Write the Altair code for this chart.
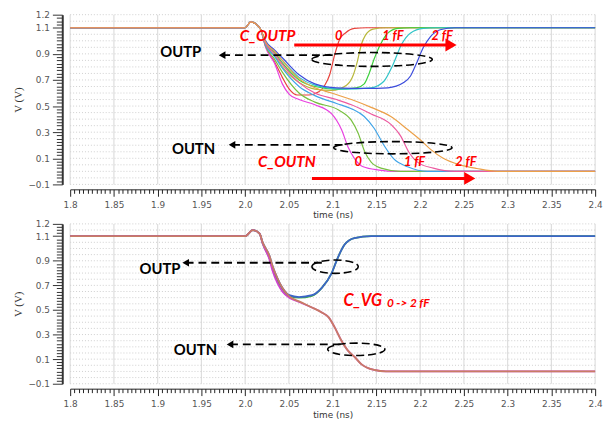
import altair as alt
import pandas as pd

# ---------------- axis values ----------------
T_DOMAIN = [1.8, 2.4]
V_DOMAIN = [-0.1, 1.2]
grid_t_vals = [1.8, 1.85, 1.9, 1.95, 2.0, 2.05, 2.1, 2.15, 2.2, 2.25, 2.3, 2.35, 2.4]
y_label_vals = [-0.1, 0.1, 0.3, 0.5, 0.7, 0.9, 1.1, 1.2]
x_tick_vals = [round(1.8 + 0.005 * i, 3) for i in range(121)]
y_tick_vals = [round(-0.1 + 0.025 * i, 3) for i in range(53)]
grid_v_vals = [round(-0.1 + 0.05 * i, 3) for i in range(27)]

# ---------------- top panel curves (C_OUTP / C_OUTN = 0 .. 2 fF) ----------------
outp0_t = [1.8, 2.0, 2.0064, 2.012, 2.0175, 2.0233, 2.0335, 2.0425, 2.0504, 2.0594, 2.0729, 2.0842, 2.0910, 2.0966, 2.1022, 2.1079, 2.1146, 2.1248, 2.1383, 2.4]
outp0_v = [1.1, 1.1, 1.145, 1.13, 1.09, 0.96, 0.84, 0.72, 0.63, 0.585, 0.585, 0.61, 0.66, 0.74, 0.89, 1.01, 1.06, 1.095, 1.1, 1.1]
outp05_t = [1.8, 2.0, 2.0064, 2.012, 2.0175, 2.0233, 2.0335, 2.0425, 2.0616, 2.0797, 2.0989, 2.1158, 2.1237, 2.1282, 2.1327, 2.1372, 2.1462, 2.1609, 2.4]
outp05_v = [1.1, 1.1, 1.145, 1.13, 1.09, 0.97, 0.89, 0.80, 0.68, 0.63, 0.62, 0.66, 0.74, 0.84, 0.97, 1.04, 1.09, 1.1, 1.1]
outp1_t = [1.8, 2.0, 2.0064, 2.012, 2.0175, 2.0233, 2.0335, 2.0425, 2.0616, 2.0797, 2.1045, 2.1271, 2.1361, 2.1417, 2.1474, 2.1552, 2.1631, 2.1744, 2.1891, 2.4]
outp1_v = [1.1, 1.1, 1.145, 1.13, 1.09, 0.98, 0.91, 0.83, 0.70, 0.65, 0.63, 0.64, 0.67, 0.75, 0.86, 0.98, 1.06, 1.095, 1.1, 1.1]
outp15_t = [1.8, 2.0, 2.0064, 2.012, 2.0175, 2.0233, 2.0335, 2.0425, 2.0616, 2.0797, 2.1101, 2.144, 2.1586, 2.1688, 2.179, 2.1891, 2.2038, 2.2173, 2.4]
outp15_v = [1.1, 1.1, 1.145, 1.13, 1.09, 0.99, 0.92, 0.85, 0.72, 0.66, 0.63, 0.64, 0.69, 0.815, 0.975, 1.06, 1.095, 1.1, 1.1]
outp2_t = [1.8, 2.0, 2.0064, 2.012, 2.0175, 2.0233, 2.0335, 2.0425, 2.0616, 2.0797, 2.1045, 2.1383, 2.1631, 2.1812, 2.189, 2.1947, 2.2038, 2.2116, 2.2229, 2.2398, 2.4]
outp2_v = [1.1, 1.1, 1.145, 1.13, 1.09, 1.0, 0.93, 0.87, 0.74, 0.67, 0.64, 0.635, 0.64, 0.68, 0.73, 0.81, 0.95, 1.03, 1.085, 1.1, 1.1]

outn0_t = [1.8, 2.0, 2.0064, 2.012, 2.0175, 2.0233, 2.0335, 2.0425, 2.0504, 2.0616, 2.0797, 2.0989, 2.1101, 2.118, 2.1248, 2.1349, 2.153, 2.1722, 2.4]
outn0_v = [1.1, 1.1, 1.145, 1.13, 1.09, 0.95, 0.83, 0.67, 0.59, 0.55, 0.51, 0.44, 0.32, 0.18, 0.10, 0.035, 0.01, 0.0, 0.0]
outn05_t = [1.8, 2.0, 2.0064, 2.012, 2.0175, 2.0233, 2.0335, 2.0425, 2.0616, 2.0797, 2.1068, 2.1214, 2.1293, 2.1361, 2.144, 2.1552, 2.1778, 2.4]
outn05_v = [1.1, 1.1, 1.145, 1.13, 1.09, 0.96, 0.86, 0.76, 0.60, 0.53, 0.47, 0.39, 0.29, 0.16, 0.07, 0.025, 0.0, 0.0]
outn1_t = [1.8, 2.0, 2.0064, 2.012, 2.0175, 2.0233, 2.0335, 2.0425, 2.0616, 2.0797, 2.1045, 2.1214, 2.1361, 2.1474, 2.1586, 2.1699, 2.1857, 2.2082, 2.4]
outn1_v = [1.1, 1.1, 1.145, 1.13, 1.09, 0.97, 0.88, 0.79, 0.65, 0.58, 0.52, 0.48, 0.42, 0.33, 0.20, 0.095, 0.035, 0.0, 0.0]
outn15_t = [1.8, 2.0, 2.0064, 2.012, 2.0175, 2.0233, 2.0335, 2.0425, 2.0616, 2.0797, 2.1045, 2.1214, 2.144, 2.1665, 2.1778, 2.1868, 2.1981, 2.215, 2.2398, 2.4]
outn15_v = [1.1, 1.1, 1.145, 1.13, 1.09, 0.98, 0.90, 0.82, 0.68, 0.60, 0.55, 0.51, 0.44, 0.36, 0.27, 0.15, 0.065, 0.025, 0.0, 0.0]
outn2_t = [1.8, 2.0, 2.0064, 2.012, 2.0175, 2.0233, 2.0335, 2.0425, 2.0616, 2.0797, 2.0989, 2.1214, 2.144, 2.1665, 2.1857, 2.2004, 2.2116, 2.2263, 2.2455, 2.2647, 2.2883, 2.4]
outn2_v = [1.1, 1.1, 1.145, 1.13, 1.09, 0.99, 0.92, 0.85, 0.71, 0.64, 0.60, 0.55, 0.49, 0.42, 0.32, 0.24, 0.17, 0.10, 0.05, 0.022, 0.0, 0.0]

# ---------------- bottom panel curves (C_VG = 0 .. 2 fF) ----------------
vg_outp_g_t = [1.8, 2.0, 2.0086, 2.0165, 2.02, 2.0278, 2.0312, 2.0368, 2.0425, 2.0504, 2.0616, 2.0763, 2.0876, 2.0989, 2.1056, 2.1135, 2.1248, 2.144, 2.4]
vg_outp_g_v = [1.1, 1.1, 1.15, 1.12, 1.04, 0.92, 0.84, 0.74, 0.67, 0.615, 0.60, 0.615, 0.68, 0.80, 0.92, 1.03, 1.085, 1.1, 1.1]
vg_outp_t = [1.8, 2.0, 2.0086, 2.0165, 2.02, 2.0278, 2.0312, 2.0368, 2.0425, 2.0504, 2.0616, 2.0763, 2.0876, 2.0989, 2.1056, 2.1135, 2.1248, 2.144, 2.4]
vg_outp_v = [1.1, 1.1, 1.15, 1.12, 1.05, 0.94, 0.86, 0.76, 0.68, 0.62, 0.605, 0.62, 0.68, 0.80, 0.92, 1.03, 1.085, 1.1, 1.1]
vg_outn_m_t = [1.8, 2.0, 2.0086, 2.0165, 2.02, 2.0278, 2.0312, 2.0368, 2.0425, 2.0504, 2.0616, 2.0763, 2.0876, 2.0955, 2.1022, 2.1101, 2.118, 2.1248, 2.1327, 2.1474, 2.1609, 2.4]
vg_outn_m_v = [1.1, 1.1, 1.15, 1.12, 1.04, 0.91, 0.82, 0.72, 0.65, 0.60, 0.565, 0.52, 0.48, 0.44, 0.36, 0.25, 0.165, 0.12, 0.06, 0.012, 0.0, 0.0]
vg_outn_t = [1.8, 2.0, 2.0086, 2.0165, 2.02, 2.0278, 2.0312, 2.0368, 2.0425, 2.0504, 2.0616, 2.0763, 2.0876, 2.0955, 2.1022, 2.1101, 2.118, 2.1248, 2.1327, 2.1474, 2.1609, 2.4]
vg_outn_v = [1.1, 1.1, 1.15, 1.12, 1.05, 0.94, 0.86, 0.76, 0.68, 0.61, 0.57, 0.52, 0.48, 0.44, 0.36, 0.25, 0.165, 0.12, 0.06, 0.012, 0.0, 0.0]

top_curves = [
    (outp0_t, outp0_v, "#e8423c"),
    (outp05_t, outp05_v, "#b8b83c"),
    (outp1_t, outp1_v, "#3cd03c"),
    (outp15_t, outp15_v, "#30c4c8"),
    (outp2_t, outp2_v, "#3c4cdc"),
    (outn0_t, outn0_v, "#e840e0"),
    (outn05_t, outn05_v, "#78c040"),
    (outn1_t, outn1_v, "#40a4e8"),
    (outn15_t, outn15_v, "#ec5aa0"),
    (outn2_t, outn2_v, "#eca048"),
]
bottom_curves = [
    (vg_outp_g_t, vg_outp_g_v, "#40b040"),
    (vg_outp_t, vg_outp_v, "#3c64c8"),
    (vg_outn_m_t, vg_outn_m_v, "#d040d0"),
    (vg_outn_t, vg_outn_v, "#c87c64"),
]

# ---------------- annotations ----------------
top_black_txt = ["OUTP", "OUTN"]
top_black_t = [1.9263, 1.941]
top_black_v = [0.916, 0.173]
top_red_big_txt = ["C_OUTP", "C_OUTN"]
top_red_big_t = [2.0256, 2.0476]
top_red_big_v = [1.034, 0.071]
top_red_small_txt = ["0", "1 fF", "2 fF", "0", "1 fF", "2 fF"]
top_red_small_t = [2.1068, 2.1688, 2.2252, 2.1293, 2.1936, 2.2522]
top_red_small_v = [1.0375, 1.0375, 1.0375, 0.071, 0.071, 0.071]
top_red_arrow_t0 = [2.0561, 2.0763]
top_red_arrow_t1 = [2.2353, 2.2567]
top_red_arrow_v = [0.968, -0.054]
top_dash_t0 = [1.9737, 1.985]
top_dash_t1 = [2.1045, 2.1158]
top_dash_v = [0.890, 0.203]
top_ell_t = [2.1451, 2.1688]
top_ell_v = [0.857, 0.181]
top_ell_rx = [61, 60]
top_ell_ry = [7, 6.2]

bot_black_txt = ["OUTP", "OUTN"]
bot_black_t = [1.9026, 1.9432]
bot_black_v = [0.836, 0.172]
bot_red_big_txt = ["C_VG"]
bot_red_big_t = [2.1124]
bot_red_big_v = [0.572]
bot_red_small_txt = ["0 -> 2 fF"]
bot_red_small_t = [2.162]
bot_red_small_v = [0.556]
bot_dash_t0 = [1.932, 1.9827]
bot_dash_t1 = [2.0932, 2.1101]
bot_dash_v = [0.884, 0.22]
bot_ell_t = [2.1028, 2.127]
bot_ell_v = [0.852, 0.18]
bot_ell_rx = [23.5, 29]
bot_ell_ry = [6.8, 6.3]

LABEL_FONT = "DejaVu Sans"
ANN_FONT = "Lato"

XSCALE = alt.Scale(domain=T_DOMAIN, nice=False, zero=False)
YSCALE = alt.Scale(domain=V_DOMAIN, nice=False, zero=False)

x_axis = alt.Axis(
    values=x_tick_vals,
    labelExpr="(round(datum.value*200) % 10 == 0) ? ((round(datum.value*200) % 20 == 0) ? format(datum.value, '.1f') : format(datum.value, '.2f')) : ''",
    tickSize={"condition": {"test": "round(datum.value*200) % 10 == 0", "value": 7}, "value": 4},
    grid=False, offset=5, domainColor="#222", tickColor="#222", tickWidth=1,
    labelFont=LABEL_FONT, labelFontSize=9, labelColor="#555", labelPadding=4,
    labelOverlap=False, labelFlush=False,
    title="time (ns)", titleFont=LABEL_FONT, titleFontSize=9, titleFontWeight="normal",
    titleColor="#333", titlePadding=2,
)
y_axis = alt.Axis(
    values=y_tick_vals,
    labelExpr="((abs(round(datum.value*40)) % 8 == 4) || (round(datum.value*40) == 48)) ? format(datum.value, '.1f') : ''",
    tickSize={"condition": {"test": "(abs(round(datum.value*40)) % 8 == 4) || (round(datum.value*40) == 48)", "value": 10}, "value": 6},
    grid=False, offset=8, domainColor="#333", domainWidth=2, tickColor="#333", tickWidth=1,
    labelFont=LABEL_FONT, labelFontSize=9, labelColor="#555", labelPadding=3,
    labelOverlap=False, labelFlush=False,
    title="V (V)", titleFont="Liberation Serif", titleFontSize=11, titleFontWeight="normal",
    titleColor="#333", titlePadding=4,
)


def X(field="t"):
    return alt.X(f"{field}:Q", scale=XSCALE, axis=x_axis)


def Y(field="v"):
    return alt.Y(f"{field}:Q", scale=YSCALE, axis=y_axis)


def ellipse_path(rx, ry):
    r = ry / rx
    return f"M-1,0A1,{r:.4f} 0 1,1 1,0A1,{r:.4f} 0 1,1 -1,0Z"


def panel(curves, line_w, black, red_big, red_small, dash, ell, red_arrows, height):
    layers = []
    vgrid = pd.DataFrame({"t": grid_t_vals})
    hgrid = pd.DataFrame({"v": grid_v_vals})
    layers.append(alt.Chart(vgrid).mark_rule(color="#dedede", strokeWidth=1.2).encode(x=X()))
    layers.append(alt.Chart(hgrid).mark_rule(color="#cfcfcf", strokeWidth=1, strokeDash=[1, 2]).encode(y=Y()))
    for tt, vv, col in curves:
        df = pd.DataFrame({"t": tt, "v": vv})
        layers.append(alt.Chart(df).mark_line(color=col, strokeWidth=line_w, interpolate="monotone").encode(x=X(), y=Y()))
    # dashed black arrows
    dt0, dt1, dv = dash
    ddf = pd.DataFrame({"t": dt0, "t2": dt1, "v": dv})
    layers.append(alt.Chart(ddf).mark_rule(color="black", strokeWidth=1.8, strokeDash=[8, 5]).encode(x=X(), x2="t2:Q", y=Y()))
    layers.append(alt.Chart(ddf).mark_point(shape="triangle-left", filled=True, color="black", size=60, opacity=1).encode(x=X(), y=Y()))
    # ellipses
    et, ev, erx, ery = ell
    edf = pd.DataFrame({
        "t": et, "v": ev,
        "shp": [ellipse_path(a, b) for a, b in zip(erx, ery)],
        "sz": [4 * a * a for a in erx],
    })
    layers.append(alt.Chart(edf).mark_point(filled=False, stroke="black", strokeWidth=1.6, strokeDash=[8, 4], opacity=1).encode(
        x=X(), y=Y(), shape=alt.Shape("shp:N", scale=None), size=alt.Size("sz:Q", scale=None)))
    # red arrows
    if red_arrows is not None:
        rt0, rt1, rv = red_arrows
        rdf = pd.DataFrame({"t": rt0, "t2": rt1, "v": rv})
        layers.append(alt.Chart(rdf).mark_rule(color="#ff0000", strokeWidth=3).encode(x=X(), x2="t2:Q", y=Y()))
        hdf = pd.DataFrame({"t": rt1, "v": rv})
        layers.append(alt.Chart(hdf).mark_point(shape="triangle-right", filled=True, color="#ff0000", size=170, opacity=1).encode(x=X(), y=Y()))
    # texts
    bt, bx, bv = black
    layers.append(alt.Chart(pd.DataFrame({"t": bx, "v": bv, "txt": bt})).mark_text(
        font=ANN_FONT, fontWeight="bold", fontSize=15, color="black", align="center", baseline="middle").encode(x=X(), y=Y(), text="txt:N"))
    rt, rx_, rv_, ralign, rsize = red_big
    layers.append(alt.Chart(pd.DataFrame({"t": rx_, "v": rv_, "txt": rt})).mark_text(
        font=ANN_FONT, fontWeight="bold", fontStyle="italic", fontSize=rsize, color="#ff0000", align=ralign, baseline="middle").encode(x=X(), y=Y(), text="txt:N"))
    st, sx, sv, salign, ssize = red_small
    layers.append(alt.Chart(pd.DataFrame({"t": sx, "v": sv, "txt": st})).mark_text(
        font=ANN_FONT, fontWeight="bold", fontStyle="italic", fontSize=ssize, color="#ff0000", align=salign, baseline="middle").encode(x=X(), y=Y(), text="txt:N"))
    return alt.layer(*layers).properties(width=532, height=height)


top = panel(
    top_curves, 1.2,
    (top_black_txt, top_black_t, top_black_v),
    (top_red_big_txt, top_red_big_t, top_red_big_v, "center", 15.5),
    (top_red_small_txt, top_red_small_t, top_red_small_v, "center", 13),
    (top_dash_t0, top_dash_t1, top_dash_v),
    (top_ell_t, top_ell_v, top_ell_rx, top_ell_ry),
    (top_red_arrow_t0, top_red_arrow_t1, top_red_arrow_v),
    172,
)
bottom = panel(
    bottom_curves, 1.8,
    (bot_black_txt, bot_black_t, bot_black_v),
    (bot_red_big_txt, bot_red_big_t, bot_red_big_v, "left", 16.5),
    (bot_red_small_txt, bot_red_small_t, bot_red_small_v, "left", 12),
    (bot_dash_t0, bot_dash_t1, bot_dash_v),
    (bot_ell_t, bot_ell_v, bot_ell_rx, bot_ell_ry),
    None,
    162,
)

chart = alt.vconcat(top, bottom, spacing=40, bounds="flush").properties(
    padding={"left": 5, "top": 0, "right": 2, "bottom": 0},
    background="white",
).configure_view(stroke=None)

chart.save("out.html", embed_options={"renderer": "svg", "actions": False})
